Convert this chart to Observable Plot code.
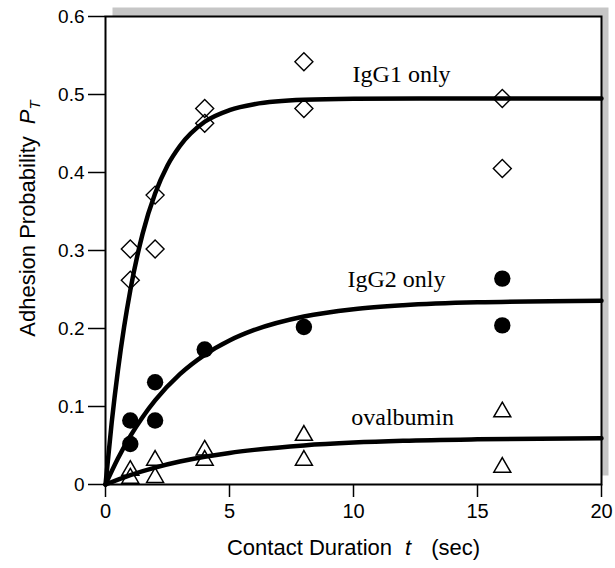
<!DOCTYPE html>
<html>
<head>
<meta charset="utf-8">
<script src="https://cdn.jsdelivr.net/npm/d3@7"></script>
<script src="https://cdn.jsdelivr.net/npm/@observablehq/plot@0.6"></script>
<style>
  html, body { margin: 0; padding: 0; background: white; }
</style>
</head>
<body>
<div id="chart"></div>
<script>
// Measured points (contact duration t in sec, adhesion probability)
const igg1T = [1, 1, 2, 2, 4, 4, 8, 8, 16, 16];
const igg1P = [0.302, 0.262, 0.371, 0.302, 0.482, 0.463, 0.542, 0.482, 0.495, 0.405];

const igg2T = [1, 1, 2, 2, 4, 8, 16, 16];
const igg2P = [0.082, 0.052, 0.131, 0.082, 0.173, 0.202, 0.264, 0.204];

const ovalT = [1, 1, 2, 2, 4, 4, 8, 8, 16, 16];
const ovalP = [0.018, 0.008, 0.031, 0.009, 0.044, 0.031, 0.063, 0.031, 0.093, 0.022];

// Fitted curves
const igg1CurveT = [0, 0.25, 0.5, 0.75, 1, 1.5, 2, 2.5, 3, 4, 5, 6, 8, 10, 14, 20];
const igg1CurveP = [0, 0.0795, 0.146, 0.202, 0.249, 0.322, 0.373, 0.409, 0.434, 0.465, 0.480, 0.4876, 0.4932, 0.4945, 0.495, 0.495];

const igg2CurveT = [0, 0.5, 1, 1.5, 2, 3, 4, 5, 6, 8, 10, 12, 15, 20];
const igg2CurveP = [0, 0.0334, 0.062, 0.0866, 0.1078, 0.1415, 0.1663, 0.1846, 0.1981, 0.2154, 0.2248, 0.2299, 0.2336, 0.2355];

const ovalCurveT = [0, 1, 2, 3, 4, 5, 6, 8, 10, 12, 15, 20];
const ovalCurveP = [0, 0.0121, 0.0217, 0.0294, 0.0356, 0.0405, 0.0444, 0.0501, 0.0537, 0.0560, 0.0579, 0.0593];

// Annotations
const seriesLabels = ["IgG1 only", "IgG2 only", "ovalbumin"];
const seriesLabelT = [11.94, 11.73, 11.98];
const seriesLabelP = [0.5255, 0.2634, 0.0857];

// Axes
const xTicks = [0, 5, 10, 15, 20];
const yTicks = [0, 0.1, 0.2, 0.3, 0.4, 0.5, 0.6];
const xDomain = [0, 20];
const yDomain = [0, 0.6];
const xLabelText = "Contact Duration t (sec)";
const yLabelText = "Adhesion Probability PT";

const zip = (ts, ps) => ts.map((t, i) => ({t, p: ps[i]}));
const igg1 = zip(igg1T, igg1P);
const igg2 = zip(igg2T, igg2P);
const oval = zip(ovalT, ovalP);
const igg1Curve = zip(igg1CurveT, igg1CurveP);
const igg2Curve = zip(igg2CurveT, igg2CurveP);
const ovalCurve = zip(ovalCurveT, ovalCurveP);
const labels = seriesLabels.map((s, i) => ({s, t: seriesLabelT[i], p: seriesLabelP[i]}));

const sans = "Liberation Sans, Arial, Helvetica, sans-serif";
const serif = "Liberation Serif, Times New Roman, serif";

const chart = Plot.plot({
  width: 615,
  height: 568,
  marginLeft: 105,
  marginRight: 14,
  marginTop: 16,
  marginBottom: 84,
  style: {fontFamily: sans, background: "white", color: "black", overflow: "visible"},
  x: {domain: xDomain},
  y: {domain: yDomain},
  marks: [
    Plot.frame({fill: "#c6c6c6", dx: 7, dy: -9}),
    Plot.frame({fill: "white"}),
    Plot.line(igg1Curve, {x: "t", y: "p", curve: "monotone-x", stroke: "black", strokeWidth: 4.5}),
    Plot.line(igg2Curve, {x: "t", y: "p", curve: "monotone-x", stroke: "black", strokeWidth: 4.5}),
    Plot.line(ovalCurve, {x: "t", y: "p", curve: "monotone-x", stroke: "black", strokeWidth: 4.5}),
    Plot.dot(igg1, {x: "t", y: "p", symbol: "diamond2", r: 8.1, fill: "none", stroke: "black", strokeWidth: 1.4}),
    Plot.dot(igg2, {x: "t", y: "p", symbol: "circle", r: 8.2, fill: "black", stroke: "none"}),
    Plot.dot(oval, {x: "t", y: "p", symbol: "triangle2", r: 8.1, fill: "none", stroke: "black", strokeWidth: 1.5}),
    Plot.text(labels, {x: "t", y: "p", text: "s", fontFamily: serif, fontSize: 24, fill: "black"}),
    Plot.axisX({ticks: xTicks, tickSize: 13, tickPadding: 6, fontSize: 20, label: null, strokeWidth: 1.5, tickFormat: d => String(d)}),
    Plot.axisY({ticks: yTicks, tickSize: 17, tickPadding: 4, fontSize: 19, label: null, strokeWidth: 1.5, tickFormat: d => String(d)}),
    Plot.frame({stroke: "black", strokeWidth: 2}),
    Plot.text([xLabelText], {frameAnchor: "bottom", dy: 70, fontSize: 22, fill: "black"}),
    Plot.text([yLabelText], {frameAnchor: "left", textAnchor: "middle", rotate: -90, dx: -78, dy: -32, fontSize: 22, fill: "black"})
  ]
});

document.getElementById("chart").appendChild(chart);

// Rich formatting of the axis titles (italic variables, subscript)
const svgNS = "http://www.w3.org/2000/svg";
function span(parent, txt, attrs) {
  const ts = document.createElementNS(svgNS, "tspan");
  ts.textContent = txt;
  for (const k in attrs) ts.setAttribute(k, attrs[k]);
  parent.appendChild(ts);
  return ts;
}
chart.querySelectorAll("text").forEach(t => {
  if (t.textContent === xLabelText) {
    t.textContent = "";
    span(t, "Contact Duration", {});
    span(t, "t", {dx: "13", "font-style": "italic"});
    span(t, "(sec)", {dx: "20"});
  } else if (t.textContent === yLabelText) {
    t.textContent = "";
    span(t, "Adhesion Probability", {});
    span(t, "P", {dx: "12", "font-style": "italic"});
    span(t, "T", {dy: "0.35em", "font-size": "15", "font-style": "italic"});
  }
});
</script>
</body>
</html>
